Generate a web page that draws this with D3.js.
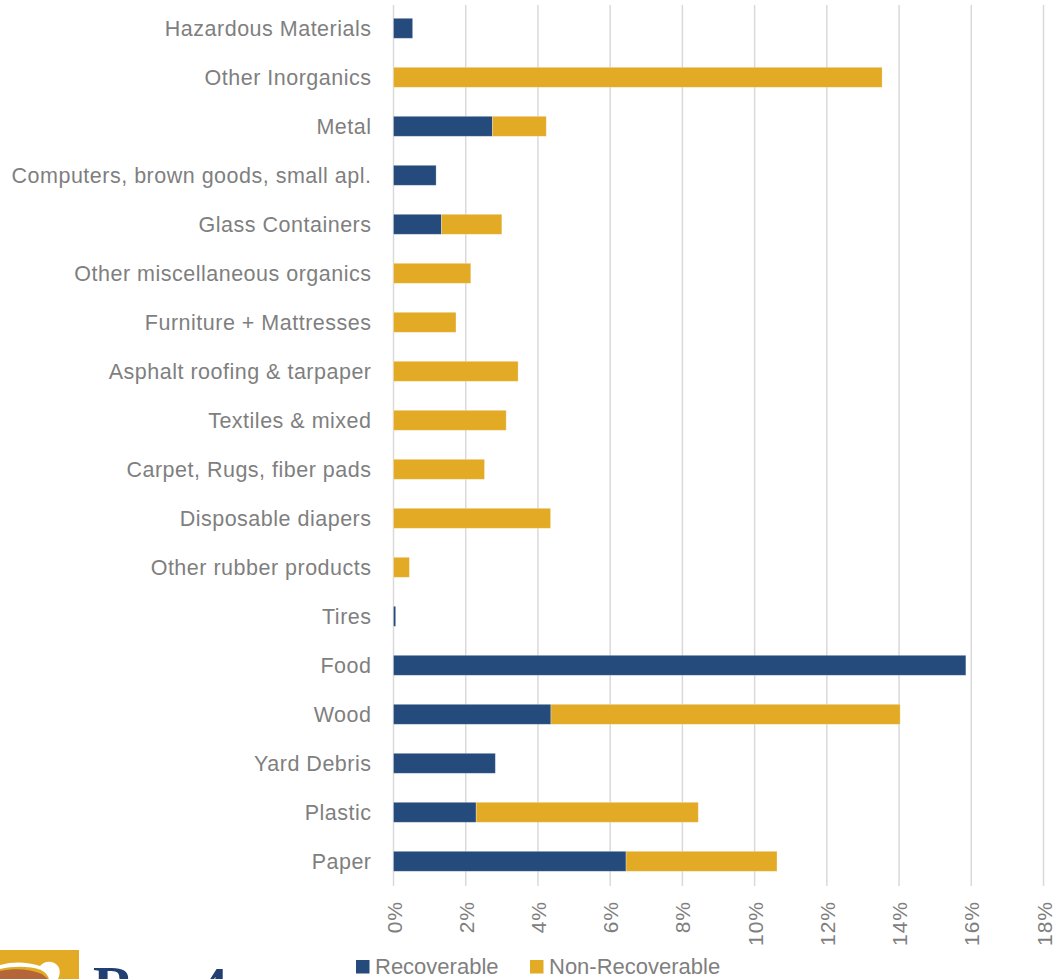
<!DOCTYPE html>
<html>
<head>
<meta charset="utf-8">
<script src="https://cdn.jsdelivr.net/npm/d3@7"></script>
<style>
  html, body { margin: 0; padding: 0; background: #fff; overflow: hidden; }
  svg { display: block; }
</style>
</head>
<body>
<svg id="chart" width="1056" height="979"></svg>
<script>
// ---- data (top-to-bottom order as in the chart) ----
const categories = [
  "Hazardous Materials",
  "Other Inorganics",
  "Metal",
  "Computers, brown goods, small apl.",
  "Glass Containers",
  "Other miscellaneous organics",
  "Furniture + Mattresses",
  "Asphalt roofing & tarpaper",
  "Textiles & mixed",
  "Carpet, Rugs, fiber pads",
  "Disposable diapers",
  "Other rubber products",
  "Tires",
  "Food",
  "Wood",
  "Yard Debris",
  "Plastic",
  "Paper"
];
const recoverable    = [0.53, 0, 2.74, 1.18, 1.33, 0, 0, 0, 0, 0, 0, 0, 0.06, 15.85, 4.36, 2.82, 2.29, 6.44];
const nonRecoverable = [0, 13.53, 1.49, 0, 1.67, 2.14, 1.73, 3.45, 3.12, 2.52, 4.35, 0.44, 0, 0, 9.67, 0, 6.15, 4.18];
const seriesNames = ["Recoverable", "Non-Recoverable"];
const seriesColors = ["#254a7c", "#e2aa25"];
const tickValues = [0, 2, 4, 6, 8, 10, 12, 14, 16, 18];

// ---- layout ----
const svg = d3.select("#chart");
const x = d3.scaleLinear().domain([0, 18]).range([393.5, 1043.5]);
const y = d3.scaleBand().domain(categories).range([3.8, 885.8]).paddingInner(0.592).paddingOuter(0.296);

const rows = categories.map((c, i) => ({ cat: c, Recoverable: recoverable[i], "Non-Recoverable": nonRecoverable[i] }));
const stacked = d3.stack().keys(seriesNames)(rows);

// gridlines
svg.append("g")
  .selectAll("line")
  .data(tickValues)
  .join("line")
  .attr("x1", d => x(d)).attr("x2", d => x(d))
  .attr("y1", 5).attr("y2", 886)
  .attr("stroke", "#d9d9d9")
  .attr("stroke-width", 1.5);

// bars
svg.append("g")
  .selectAll("g")
  .data(stacked)
  .join("g")
  .attr("fill", (d, i) => seriesColors[i])
  .selectAll("rect")
  .data(d => d.filter(p => p[1] - p[0] > 0))
  .join("rect")
  .attr("x", d => x(d[0]))
  .attr("y", d => y(d.data.cat))
  .attr("width", d => x(d[1]) - x(d[0]))
  .attr("height", y.bandwidth())
  .attr("stroke", "#ffffff")
  .attr("stroke-opacity", 0.35)
  .attr("stroke-width", 0.8);

// category axis
const yAxis = d3.axisLeft(y).tickSize(0).tickPadding(22);
const gy = svg.append("g").attr("transform", `translate(${x(0)},0)`).call(yAxis);
gy.select(".domain").remove();
gy.selectAll("text")
  .attr("fill", "#7f7f7f")
  .attr("dy", "0.36em")
  .style("font-family", "'Liberation Sans', Arial, sans-serif")
  .style("font-size", "21.5px")
  .style("letter-spacing", "0.5px");

// x axis tick labels (rotated)
const xAxis = d3.axisBottom(x).tickValues(tickValues).tickFormat(d => d + "%").tickSize(0);
const gx = svg.append("g").attr("transform", "translate(0,901)").call(xAxis);
gx.select(".domain").remove();
gx.selectAll("text")
  .attr("fill", "#7f7f7f")
  .attr("transform", "rotate(-90)")
  .attr("text-anchor", "end")
  .attr("x", 0)
  .attr("y", 0)
  .attr("dx", 0)
  .attr("dy", "0.36em")
  .style("font-family", "'Liberation Sans', Arial, sans-serif")
  .style("font-size", "21px")
  .style("letter-spacing", "1px");

// legend
const legendX = [356, 530];
const lg = svg.append("g");
seriesNames.forEach((name, i) => {
  lg.append("rect")
    .attr("x", legendX[i]).attr("y", 960)
    .attr("width", 13.5).attr("height", 13.5)
    .attr("fill", seriesColors[i]);
  lg.append("text")
    .attr("x", legendX[i] + 19).attr("y", 973.5)
    .attr("fill", "#7f7f7f")
    .style("font-family", "'Liberation Sans', Arial, sans-serif")
    .style("font-size", "22px")
    .text(name);
});

// logo (cropped at bottom-left, as in the reference)
const logo = svg.append("g");
logo.append("rect").attr("x", 0).attr("y", 950).attr("width", 79).attr("height", 30).attr("fill", "#e2aa25");
logo.append("path")
  .attr("d", "M0,971 C15,968 30,969 42,974 L48,979 L0,979 Z")
  .attr("fill", "#b4663a");
logo.append("path")
  .attr("d", "M0,965 C14,961 28,962 40,966 C44,961 52,960 57,965 C61,969 60,975 58,979 L49,979 C48,975 45,972 41,970 C30,966 14,966 0,969 Z")
  .attr("fill", "#ffffff");
logo.append("text")
  .attr("x", 93).attr("y", 1006)
  .attr("fill", "#223f73")
  .style("font-family", "'Liberation Serif', 'DejaVu Serif', serif")
  .style("font-weight", "bold")
  .style("font-size", "57px")
  .text("R");
logo.append("text")
  .attr("x", 199).attr("y", 1007)
  .attr("fill", "#223f73")
  .style("font-family", "'Liberation Serif', 'DejaVu Serif', serif")
  .style("font-weight", "bold")
  .style("font-size", "57px")
  .text("4");
</script>
</body>
</html>
